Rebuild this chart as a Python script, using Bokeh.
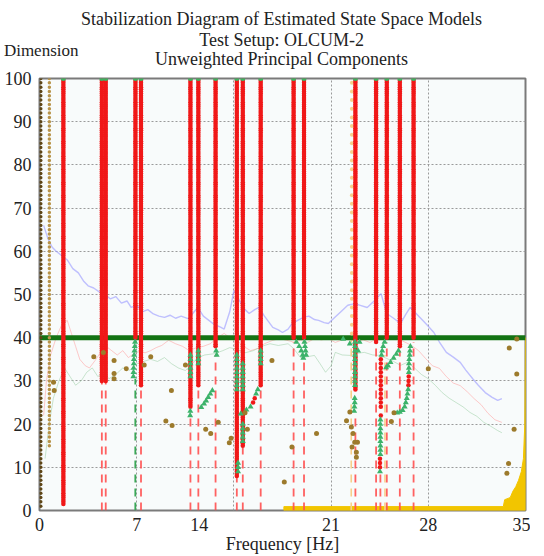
from bokeh.plotting import figure
from bokeh.models import FixedTicker, Range1d
from bokeh.layouts import column
from bokeh.embed import file_html
from bokeh.resources import INLINE
from bokeh.core.properties import value

# ---------------- data ----------------
title_lines = ["Stabilization Diagram of Estimated State Space Models",
               "Test Setup: OLCUM-2",
               "Unweighted Principal Components"]
y_axis_title = "Dimension"
x_axis_title = "Frequency [Hz]"
x_ticks = [0, 7, 11.5, 21, 28, 35]
x_tick_labels = {11.5: "14"}
y_ticks = [0, 10, 20, 30, 40, 50, 60, 70, 80, 90, 100]

# stable pole columns: frequency [Hz] and lowest dimension of red dots
stable_freq = [1.72, 4.49, 4.77, 6.91, 7.31, 10.87, 11.44, 12.68, 14.21, 14.64,
               15.93, 18.30, 19.05, 22.75, 24.24, 25.01, 25.95, 26.94]
stable_low = [1.5, 30, 30, 40, 29, 24, 29, 38, 8, 15,
              29, 40, 40, 28, 39, 40, 38, 40]
# dashed lines below the columns: frequency and top dimension
dash_freq = [4.49, 4.77, 7.31, 10.87, 11.44, 12.68, 14.21, 14.64, 15.93, 18.30,
             19.05, 22.75, 24.24, 24.55, 25.01, 25.95, 26.94]
dash_top = [29.5, 29.5, 28.5, 21.5, 28.5, 36, 7.5, 14.5, 28, 39,
            35, 22, 39, 9, 39, 37, 39]
green_dash_freq = [6.90]
green_dash_top = [30.5]
orange_dash_freq = [22.45, 24.88]
orange_dash_top = [40, 36]

# unstable / partly stable poles below dimension 40 (green triangles)
green_f = [6.88, 6.86, 6.84, 6.82, 6.80, 6.79, 6.78, 6.77, 6.76,
           10.87, 10.87, 10.87, 10.87, 10.87, 10.87, 10.86, 10.85,
           11.44, 11.44, 11.44, 11.44,
           12.72, 12.76, 12.45, 12.30, 12.15, 12.00, 11.85, 11.65,
           14.21, 14.21, 14.21, 14.21, 14.21, 14.21, 14.21, 14.21, 14.21, 14.30, 14.30, 14.30,
           14.64, 14.64, 14.64, 14.64, 14.64, 14.64, 14.64, 14.64, 14.64, 14.64, 14.64, 14.64,
           15.93, 15.93, 15.93, 15.93, 15.72, 15.60, 15.20, 14.90, 14.50,
           18.50, 18.70, 18.85, 18.95, 19.00, 19.08, 19.12, 19.16, 19.20,
           22.72, 22.72, 22.72, 22.72, 22.72, 22.72, 22.72, 22.72, 22.72, 22.72, 22.72,
           22.70, 22.70, 22.68, 22.66, 21.87, 22.35, 23.05, 22.94,
           24.85, 24.75, 24.68, 24.63, 24.55, 24.55, 24.55, 24.55, 24.55, 24.55, 24.55,
           24.55, 24.55, 24.52,
           25.85, 25.70, 25.50, 25.28, 25.10, 24.96,
           26.71, 26.68, 26.66, 26.63, 26.61, 26.60, 26.60, 26.55, 26.50, 26.45, 26.38,
           26.30, 26.15, 25.95, 25.76]
green_d = [39, 38, 37, 36, 35, 34, 33, 32, 31,
           36, 35, 34, 33, 32, 31, 23, 22,
           37, 36, 35, 34,
           37, 36, 27.8, 27, 26.2, 25.4, 24.7, 23.9,
           36, 35, 34, 33, 32, 31, 30, 29, 28, 11, 10, 9,
           34, 33, 32, 31, 30, 29, 28, 20, 19, 18, 17, 16,
           37, 36, 35, 34, 28, 27, 24, 23.3, 22.4,
           39, 38, 37, 36, 35.3, 39, 38, 37, 36,
           39, 38, 37, 36, 35, 34, 33, 32, 31, 30, 29,
           26, 25, 24, 23, 39.7, 38.6, 39, 37,
           39, 38, 37, 36, 21, 20, 19, 18, 17, 16, 15,
           14, 13, 9,
           37, 36.2, 35.3, 34.3, 33.5, 33.1,
           38, 37, 36, 35, 34, 33, 32, 28, 27, 26, 25,
           24, 23.2, 22.8, 22.6]
# red dots on drifting tails
red_tail_f = [15.50, 15.38, 24.58, 24.58, 24.58, 24.58, 24.58, 24.58, 24.58, 24.58,
              24.58, 24.58, 24.58, 24.58, 24.58, 24.52, 24.52, 24.52,
              26.59, 26.58, 26.57]
red_tail_d = [26, 25, 35, 34, 33, 32, 31, 30, 29, 28,
              27, 26, 25, 24, 22, 12, 11, 10,
              31, 30, 29]

# pale orange column
orange_col_freq = 22.50
orange_col_low = 41

# brown columns near 0 Hz
brown_col_freq = [0.09, 0.71]
brown_col_low = [1, 15]
brown_col_color = ["#5e4617", "#b8944a"]

# scattered brown poles
brown_f = [1.01, 1.06, 3.91, 4.60, 5.37, 5.37, 5.37, 6.25, 7.54, 8.01, 9.50, 10.51,
           9.10, 9.55, 11.97, 12.33, 12.87, 13.67, 13.80, 14.80, 14.97, 16.74, 17.63,
           18.18, 19.95, 22.35, 22.11, 22.46, 22.58, 22.70, 22.51, 22.82, 22.82, 22.90,
           25.34, 25.53, 28.00, 34.37, 33.83, 34.37, 34.18, 33.78, 33.66]
brown_d = [29.7, 27.8, 35.6, 36.6, 34.7, 31.7, 30.5, 32.8, 33.7, 35.6, 27.8, 33.7,
           20.7, 19.7, 18.8, 17.8, 20.4, 15.7, 16.7, 22.6, 18.8, 34.7, 6.6,
           14.7, 17.8, 22.8, 20.8, 19.3, 17.8, 15.8, 14.7, 13.5, 12.3, 15.8,
           20.6, 22.6, 32.8, 39.7, 37.6, 31.6, 18.8, 10.9, 8.6]

# faint spectrum-like curves
blue_f = [0.3, 0.6, 0.9, 1.2, 1.6, 2.0, 2.4, 2.8, 3.2, 3.5, 3.9, 4.3, 4.7, 5.1, 5.5, 5.9,
          6.3, 6.6, 7.0, 7.4, 7.8, 8.2, 8.6, 9.0, 9.4, 9.8, 10.2, 10.7, 11.0, 11.4, 11.8,
          12.2, 12.6, 13.0, 13.3, 13.7, 14.0, 14.4, 14.8, 15.1, 15.5, 15.8, 16.2, 16.8,
          17.2, 17.5, 17.9, 18.2, 18.6, 19.0, 19.4, 19.8, 20.1, 20.5, 20.8, 21.2, 21.8,
          22.2, 22.7, 23.1, 23.6, 24.1, 24.6, 25.0, 25.5, 26.0, 26.4, 26.7, 27.0, 27.4,
          27.9, 28.4, 28.8, 29.3, 29.8, 30.3, 30.7, 31.2, 31.6, 32.1, 32.6, 33.0, 33.3]
blue_d = [66, 63, 61, 60, 59, 58, 56, 55, 53, 52, 51.5, 50.6, 50, 49, 49.5, 48,
          48.5, 47, 47.5, 46, 46.5, 45.5, 45, 44.7, 45.2, 44.5, 45, 44.4, 45.5, 47, 45,
          44, 43, 42.5, 42, 46, 50.9, 48.6, 46.5, 45.6, 46.5, 47, 45, 42.4,
          41.8, 41.2, 42, 43.3, 44, 44.7, 45, 44.2, 44, 43.5, 43.3, 44.5, 46.3,
          47.5, 47.9, 47.5, 47, 48.5, 50.2, 45.6, 44.5, 43.3, 45.5, 47, 46, 44.7,
          43, 41.2, 39, 36.6, 35.5, 34.3, 32.5, 30.5, 29, 27.3, 26.2, 25.5, 25.9]
pink_f = [0.3, 0.5, 0.8, 1.2, 1.6, 2.0, 2.3, 2.6, 2.9, 3.3, 3.6, 4.0, 4.4, 4.8, 5.2, 5.6,
          6.0, 6.4, 6.8, 7.2, 7.6, 8.0, 8.4, 8.8, 9.3, 9.8, 10.3, 10.8, 11.3, 11.8, 12.3,
          12.8, 13.3, 13.7, 14.2, 14.7, 15.2, 15.7, 16.2, 16.8, 17.3, 17.8, 18.3, 18.8,
          19.3, 19.8, 20.3, 20.8, 21.3, 21.8, 22.3, 22.8, 23.3, 23.8, 24.3, 24.8, 25.3,
          25.8, 26.3, 26.8, 27.3, 27.8, 28.3, 28.8, 29.3, 29.8, 30.3, 30.8, 31.3, 31.8,
          32.3, 32.8, 33.3]
pink_d = [22, 30, 36, 40, 43, 44, 41, 38, 35, 33.5, 33, 34.7, 36.6, 38, 37, 36,
          37, 35.4, 36.3, 37, 36.5, 37, 37.7, 38.2, 39.4, 38.6, 38, 37, 37.7, 38, 38.6,
          40, 41, 40, 39.4, 38, 37, 37.5, 38.6, 39.4, 39.8, 39.4, 39, 39.4,
          38.9, 39.8, 39.5, 39.8, 38.9, 39.5, 39.8, 39, 39.5, 38.9, 39.8, 39.5, 40,
          39.8, 39, 38.2, 37, 35.2, 33.5, 32.9, 31, 29.5, 28.9, 27.5, 25.9, 24.5,
          22.5, 21, 20.4]
lgreen_f = [0.4, 0.7, 1.0, 1.4, 1.8, 2.2, 2.6, 3.0, 3.4, 3.8, 4.2, 4.6, 5.0, 5.5, 6.0,
            6.5, 7.0, 7.5, 8.0, 8.5, 9.0, 9.5, 10.0, 10.5, 11.0, 11.4, 11.9, 12.6, 13.2,
            13.7, 14.2, 14.8, 15.4, 16.0, 16.6, 17.2, 17.9, 18.3, 18.8, 19.3, 19.8, 20.2,
            20.6, 21.0, 21.3, 21.8, 22.4, 22.9, 23.4, 24.0, 24.5, 25.0, 25.5, 26.0, 26.5,
            27.0, 27.5, 28.0, 28.5, 29.0, 29.5, 30.0, 30.5, 31.0, 31.5, 32.0, 32.5, 33.0,
            33.3]
lgreen_d = [12, 20, 26, 30, 33, 31, 29, 30, 32, 33, 31, 32, 30.5, 31.5, 33,
            32.5, 34, 34.5, 35, 34.5, 35.4, 34, 33, 32.4, 34, 35.4, 36, 36.3, 37,
            37.7, 37.3, 36.5, 37, 38, 38.6, 38.2, 38.6, 37.5, 35.4, 35.6, 35.9, 34,
            32, 33.5, 36.6, 36, 35.9, 36.4, 36.6, 36, 35.9, 35.2, 34.5, 33.6, 34.3,
            33, 31.5, 30.5, 29, 27.3, 26, 25, 24, 22.7, 21.8, 20.4, 19.5, 18.5,
            18]

# yellow area at the bottom
yellow_f = [17.6, 17.6, 33.4, 33.5, 33.9, 34.1, 34.3, 34.5, 34.7, 34.85, 34.95, 35.0, 35.0]
yellow_d = [0, 0.9, 0.9, 2.5, 3.0, 4.5, 5.5, 7.0, 9.0, 12.0, 20.0, 40.0, 0]

stable_line_dim = 40
top_dim = 100
order_step = 0.5

# ---------------- header (titles) ----------------
SERIF = "Liberation Serif"
W = 530
HEAD_H = 69
head = figure(width=W, height=HEAD_H, x_range=Range1d(39, 533), y_range=Range1d(HEAD_H, 0),
              x_axis_type=None, output_backend="svg", toolbar_location=None,
              min_border=0, min_border_left=31, min_border_right=5)
head.outline_line_color = None
head.background_fill_color = "white"
head.border_fill_color = "white"
head.xgrid.visible = False
head.ygrid.visible = False
hy = head.yaxis[0]
hy.ticker = FixedTicker(ticks=[50])
hy.major_label_overrides = {50: y_axis_title}
hy.major_label_standoff = -45
hy.axis_line_color = None
hy.major_tick_line_color = None
hy.minor_tick_line_color = None
hy.major_label_text_font = SERIF
hy.major_label_text_font_size = "17px"
hy.major_label_text_color = "#222222"
head.text(x=[285, 285, 285], y=[18, 39.5, 58], text=title_lines,
          text_font=value(SERIF), text_font_size=value("18px"),
          text_align="center", text_baseline="middle", text_color="#222222")

# ---------------- main figure ----------------
p = figure(width=W, height=556 - HEAD_H, x_range=Range1d(0, 35), y_range=Range1d(0, 100),
           output_backend="svg", toolbar_location=None,
           min_border_left=31, min_border_right=5, min_border_top=78 - HEAD_H,
           min_border_bottom=46)
p.background_fill_color = "#f8fbfb"
p.border_fill_color = "white"
p.outline_line_color = "#7a7a7a"
p.outline_line_width = 2

for ax in (p.xaxis[0], p.yaxis[0]):
    ax.axis_line_color = None
    ax.major_tick_line_color = None
    ax.minor_tick_line_color = None
    ax.major_label_text_font = SERIF
    ax.major_label_text_font_size = "18px"
    ax.major_label_text_color = "#222222"
p.xaxis.major_label_standoff = 1
p.xaxis.ticker = FixedTicker(ticks=x_ticks)
p.xaxis.major_label_overrides = x_tick_labels
p.yaxis.ticker = FixedTicker(ticks=y_ticks)
p.yaxis.major_label_standoff = 2
p.xaxis.axis_label = x_axis_title
p.xaxis.axis_label_text_font = SERIF
p.xaxis.axis_label_text_font_style = "normal"
p.xaxis.axis_label_text_font_size = "18px"
p.xaxis.axis_label_text_color = "#222222"
p.xaxis.axis_label_standoff = 0

p.xgrid.ticker = FixedTicker(ticks=[7, 14, 21, 28])
p.ygrid.ticker = FixedTicker(ticks=y_ticks[1:-1])
for g in (p.xgrid[0], p.ygrid[0]):
    g.grid_line_color = "#9a9a9a"
    g.grid_line_dash = "2 2"
    g.grid_line_width = 1

# faint curves
p.line(blue_f, blue_d, line_color="#9f9fff", line_width=1.4, line_alpha=0.65)
p.line(pink_f, pink_d, line_color="#ff9f9f", line_width=1.0, line_alpha=0.55)
p.line(lgreen_f, lgreen_d, line_color="#9fd0a8", line_width=1.0, line_alpha=0.55)

# yellow area
p.patch(yellow_f, yellow_d, fill_color="#f2c500", line_color="#f2c500", line_width=1)

# dashed lines
p.segment(x0=dash_freq, y0=[0] * len(dash_freq), x1=dash_freq, y1=dash_top,
          line_color="#ff5050", line_width=1.8, line_dash="8 6", line_alpha=0.9)
p.segment(x0=green_dash_freq, y0=[0] * len(green_dash_freq), x1=green_dash_freq,
          y1=green_dash_top, line_color="#3aa857", line_width=1.8, line_dash="8 6")
p.segment(x0=orange_dash_freq, y0=[0] * len(orange_dash_freq), x1=orange_dash_freq,
          y1=orange_dash_top, line_color="#f7cf8a", line_width=1.6, line_dash="8 6")

# green stabilisation line
p.line([0, 35], [stable_line_dim, stable_line_dim], line_color="#137313", line_width=5)

# brown columns
for f, lo, c in zip(brown_col_freq, brown_col_low, brown_col_color):
    ds = list(range(lo, top_dim + 1))
    p.scatter([f] * len(ds), ds, marker="circle", size=3.5, fill_color=c, line_color=None)

# pale orange column
od = list(range(orange_col_low, top_dim + 1, 2))
p.scatter([orange_col_freq] * len(od), od, marker="circle", size=4,
          fill_color="#f8cf8c", line_color=None)

# stable red columns
rx, ry = [], []
for f, lo in zip(stable_freq, stable_low):
    n = int((top_dim - lo) / order_step)
    for i in range(n):
        rx.append(f)
        ry.append(lo + i * order_step)
p.scatter(rx, ry, marker="circle", size=4.5, fill_color="#f01818", line_color=None)
p.scatter(red_tail_f, red_tail_d, marker="circle", size=4.5, fill_color="#f01818", line_color=None)
p.scatter(stable_freq, [top_dim] * len(stable_freq), marker="circle", size=5,
          fill_color="#40b060", line_color=None)

# green triangles
p.scatter(green_f, green_d, marker="triangle", size=6, fill_color="#3cb36a", line_color=None)

# scattered brown
p.scatter(brown_f, brown_d, marker="circle", size=5, fill_color="#9c7a2c", line_color=None)

layout = column(head, p, spacing=0)
open("out.html", "w").write(file_html(layout, INLINE))
